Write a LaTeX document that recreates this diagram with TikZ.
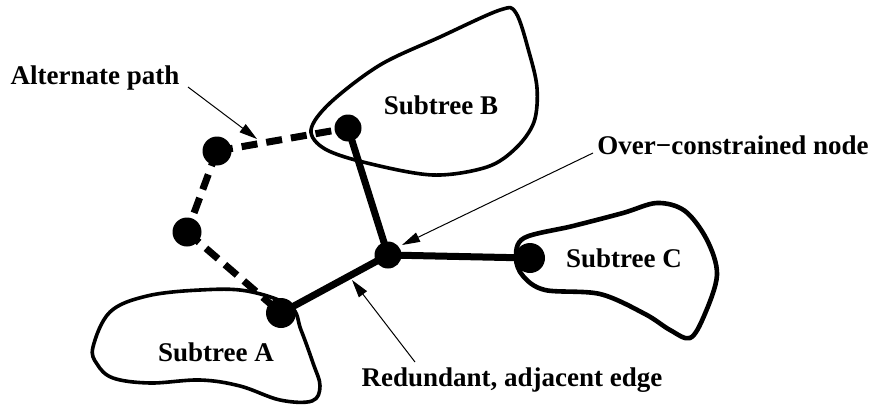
\documentclass[tikz,border=0pt]{standalone}
\usepackage{fontspec}
\setmainfont{Liberation Serif}
\usetikzlibrary{arrows.meta}
\begin{document}
\begin{tikzpicture}[x=1pt,y=-1pt,
  vertex/.style={circle,fill=black,inner sep=0pt,minimum size=29pt},
  label/.style={font=\fontsize{27}{32}\selectfont\bfseries,inner sep=0pt},
  blob/.style={draw=black,line width=3.6pt,line join=round},
  treeedge/.style={line width=7pt},
  altedge/.style={line width=7pt,dash pattern=on 16pt off 9pt},
  pointer/.style={line width=1pt,-{Triangle[length=18pt,width=10pt]}}]
\useasboundingbox (0,0) rectangle (876,415);

% subtree outlines
\draw[blob] plot[smooth cycle,tension=0.6] coordinates {
  (93,347) (110,312) (147,296) (200,290) (247,291) (290,306) (301,330)
  (313,363) (320,386) (312,401) (280,400) (240,386) (200,380) (150,383)
  (113,378) (97,364)};
\draw[blob] plot[smooth cycle,tension=0.55] coordinates {
  (311,130) (330,103) (380,65) (440,37) (500,10) (516,13) (529,52)
  (537,88) (534,122) (516,148) (487,167) (433,175) (367,163) (325,149)};
\draw[blob,line width=4.6pt] plot[smooth cycle,tension=0.55] coordinates {
  (516,258) (524,238) (573,226) (623,213) (657,203) (685,211) (707,240)
  (717,275) (704,316) (690,338) (670,330) (645,314) (600,294) (545,290)
  (523,276)};

% tree vertices
\node[vertex] (p1) at (217,151) {};
\node[vertex] (p2) at (187,232) {};
\node[vertex,minimum size=30pt] (va) at (281,313) {};
\node[vertex,minimum size=27pt] (vb) at (348,128) {};
\node[vertex,minimum size=27pt] (vx) at (388,255) {};
\node[vertex,minimum size=30pt] (vc) at (530,258) {};

% edges
\draw[altedge] (p1.center) -- (vb.center);
\draw[altedge] (p1.center) -- (p2.center);
\draw[altedge] (p2.center) -- (va.center);
\draw[treeedge] (vb.center) -- (vx.center);
\draw[treeedge] (va.center) -- (vx.center);
\draw[treeedge] (vx.center) -- (vc.center);

% labels
\node[label] (la) at (216,352) {Subtree A};
\node[label] (lb) at (441,105) {Subtree B};
\node[label] (lc) at (624,258) {Subtree C};
\node[label] (lalt) at (95,78) {Alternate path};
\node[label] (lover) at (733,145) {Over−constrained node};
\node[label] (lred) at (512,380) {Redundant, adjacent edge};

% pointers
\coordinate (altfrom) at (188,87);
\coordinate (altto) at (257,139);
\coordinate (overfrom) at (593,153);
\coordinate (overto) at (402,245);
\coordinate (redfrom) at (415,362);
\coordinate (redto) at (352,280);
\draw[pointer] (altfrom) -- (altto);
\draw[pointer] (overfrom) -- (overto);
\draw[pointer] (redfrom) -- (redto);
\end{tikzpicture}
\end{document}
